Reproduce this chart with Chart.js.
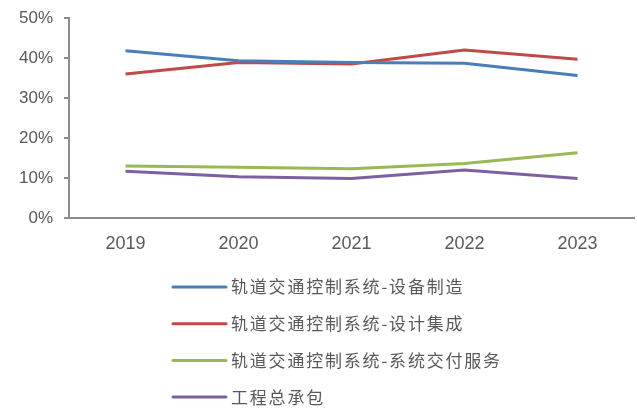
<!DOCTYPE html>
<html>
<head>
<meta charset="utf-8">
<script src="https://cdn.jsdelivr.net/npm/chart.js@4"></script>
<style>
  html, body { margin: 0; padding: 0; background: #fff; }
  #wrap { width: 637px; height: 408px; }
</style>
</head>
<body>
<div id="wrap"><canvas id="chartCanvas" width="637" height="408"></canvas></div>
<script>
    var years = ["2019", "2020", "2021", "2022", "2023"];
    var seriesNames = [
        "轨道交通控制系统-设备制造",
        "轨道交通控制系统-设计集成",
        "轨道交通控制系统-系统交付服务",
        "工程总承包"
    ];
    var equipment = [41.8, 39.3, 38.9, 38.7, 35.6];
    var integration = [36.0, 38.9, 38.5, 42.0, 39.7];
    var delivery = [13.0, 12.7, 12.3, 13.6, 16.3];
    var contracting = [11.7, 10.3, 9.9, 12.0, 9.9];
    var yTicks = [0, 10, 20, 30, 40, 50];

    var colors = ["#4A7EBB", "#BE4B48", "#98B954", "#7D60A0"];
    var textColor = "#595959";
    var axisColor = "#8c8c8c";

    var allSeries = [equipment, integration, delivery, contracting];

    var chartData = {
        labels: years,
        datasets: allSeries.map(function(vals, i) {
            return {
                label: seriesNames[i],
                data: vals,
                borderColor: colors[i],
                backgroundColor: colors[i],
                borderWidth: 3,
                pointRadius: 0,
                tension: 0,
                fill: false
            };
        })
    };

    // legend drawn one item per row, like the original
    var stackedLegend = {
        id: 'stackedLegend',
        afterDraw: function(chart) {
            var ctx = chart.ctx;
            ctx.save();
            ctx.font = '17px "Noto Sans CJK SC"';
            ctx.letterSpacing = '1.8px';
            ctx.textBaseline = 'middle';
            ctx.textAlign = 'left';
            chart.data.datasets.forEach(function(ds, i) {
                var y = 287 + i * 36.7;
                ctx.strokeStyle = ds.borderColor;
                ctx.lineWidth = 3;
                ctx.lineCap = 'round';
                ctx.beginPath();
                ctx.moveTo(173, y);
                ctx.lineTo(226, y);
                ctx.stroke();
                ctx.fillStyle = textColor;
                ctx.fillText(ds.label, 231, y);
            });
            ctx.restore();
        }
    };

    var chartOptions = {
        responsive: false,
        animation: false,
        layout: { padding: { top: 18, right: 3, bottom: 150, left: 0 } },
        plugins: {
            legend: { display: false },
            tooltip: { enabled: false }
        },
        scales: {
            x: {
                offset: true,
                grid: { display: false },
                border: { display: true, color: axisColor, width: 2 },
                ticks: {
                    color: textColor,
                    font: { family: 'Liberation Sans, Arial', size: 18 },
                    padding: 7,
                    maxRotation: 0
                },
                afterFit: function(scale) { scale.height = 40; }
            },
            y: {
                min: 0,
                max: 50,
                afterBuildTicks: function(scale) {
                    scale.ticks = yTicks.map(function(v) { return { value: v }; });
                },
                grid: {
                    drawOnChartArea: false,
                    drawTicks: true,
                    tickLength: 5,
                    color: axisColor,
                    lineWidth: 2
                },
                border: { display: true, color: axisColor, width: 2 },
                ticks: {
                    color: textColor,
                    font: { family: 'Liberation Sans, Arial', size: 17 },
                    padding: 11,
                    callback: function(v) { return v + '%'; }
                },
                afterFit: function(scale) {
                    scale.width = 69;
                    scale.paddingTop = 0;
                    scale.paddingBottom = 0;
                }
            }
        }
    };

    var ctx = document.getElementById("chartCanvas").getContext("2d");
    window.myLine = new Chart(ctx, {
        type: 'line',
        data: chartData,
        options: chartOptions,
        plugins: [stackedLegend]
    });
</script>
</body>
</html>
